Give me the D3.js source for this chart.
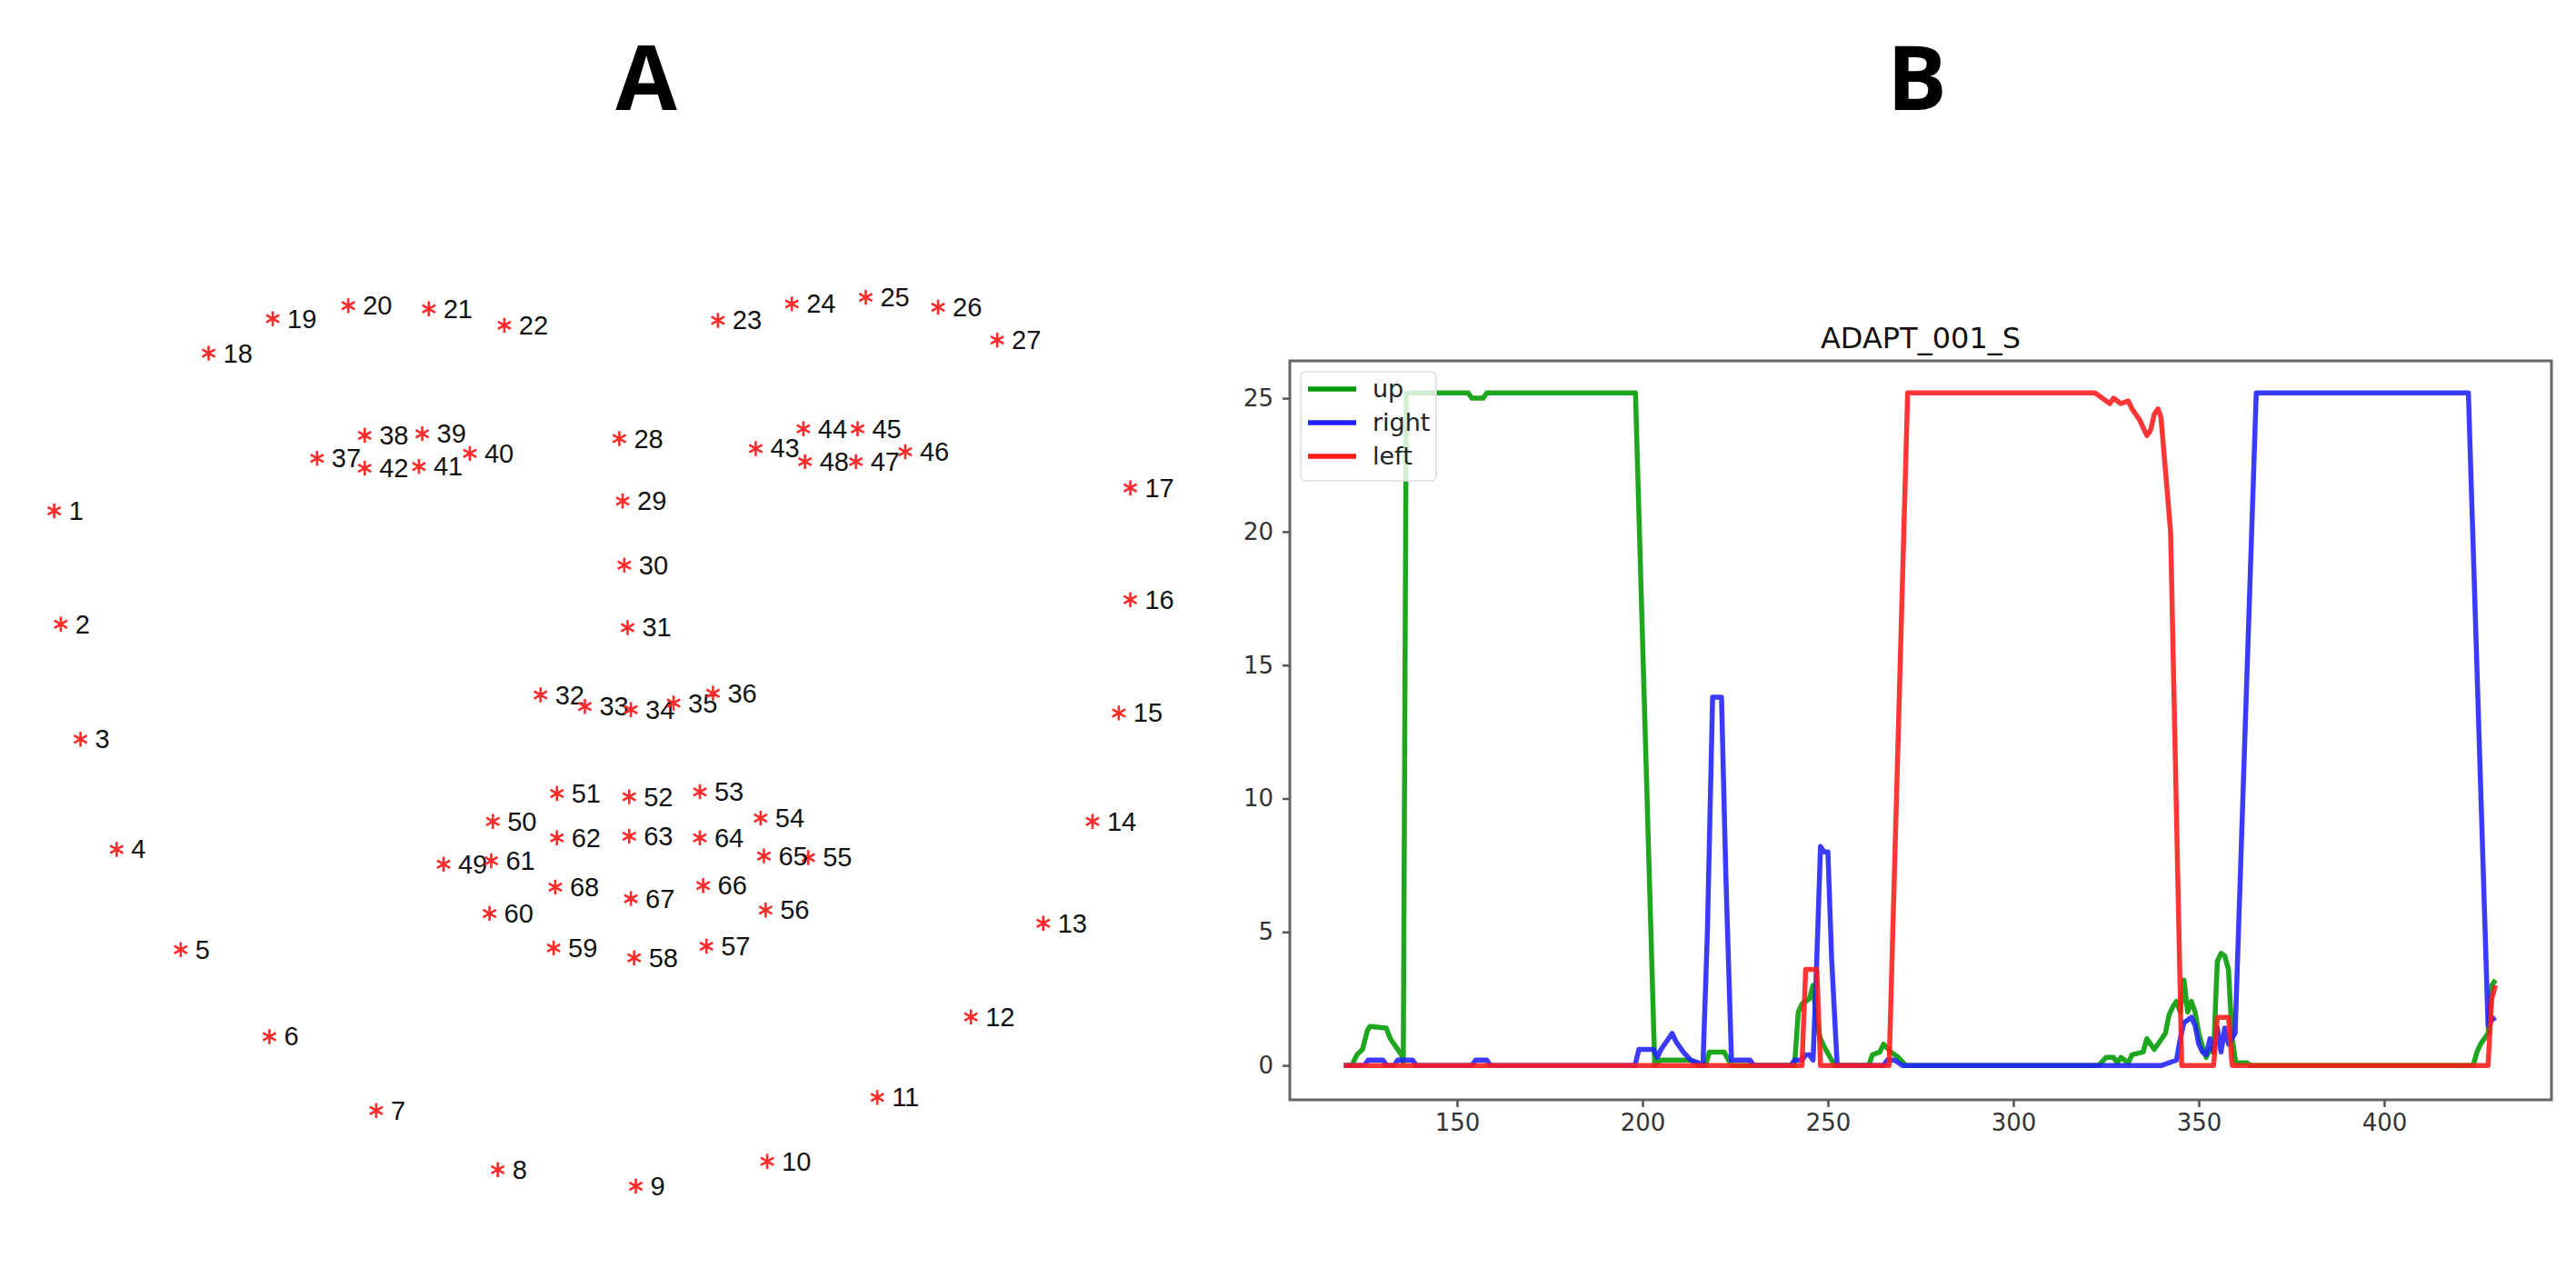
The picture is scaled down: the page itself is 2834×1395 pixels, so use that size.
<!DOCTYPE html>
<html><head><meta charset="utf-8">
<script src="https://cdn.jsdelivr.net/npm/d3@7"></script>
<style>body{margin:0;background:#fff}</style>
</head><body>
<svg id="c" width="2834" height="1395"></svg>
<script>
// ---------- Panel A: 68 facial landmarks (image coords) ----------
const landmarkX = [33,37,49,71,110,164,229,303,387,467,534,591,635,665,681,688,688,
  127,166,212,261,307,437,482,527,571,607,
  377,379,380,382,329,356,384,410,434,
  193,222,257,286,255,222,460,489,522,551,521,490,
  270,300,339,383,426,463,492,466,430,386,337,298,299,339,383,426,465,428,384,338];
const landmarkY = [311,380,450,517,578,631,676,712,722,707,668,619,562,500,434,365,297,
  215,194,186,188,198,195,185,181,187,207,
  267,305,344,382,423,430,432,428,422,
  279,265,264,276,284,285,273,261,261,275,281,281,
  526,500,483,485,482,498,522,554,576,583,577,556,524,510,509,510,521,539,547,540];
const landmarkLabels = landmarkX.map((_, i) => String(i + 1));

// ---------- Panel B: time series ----------
const chartTitle = "ADAPT_001_S";
const seriesNames = ["up", "right", "left"];
const seriesColors = ["#009a00", "#2020ff", "#ff1a1a"];
const upX = [119.5,121.6,123,124.5,125.8,126.5,130.9,132,133.5,135,135.5,136.3,153,154,157,158,198.1,203.3,205,213,215,217,218,222,224,241,242,243,245,246,247,248,249,251,252,261,262,264,265,267,269,271,323,325,327,328,329,331,332,335,336,337,338,340,341,342,343,344,345,346,347,348,349,350,351,352,353,354,355,356,357,358,359,360,363,364,424,425,426,428,429,430];
const upY = [0,0,0.4,0.6,1.3,1.46,1.4,1.0,0.7,0.4,0.1,25.2,25.2,25.0,25.0,25.2,25.2,0,0.2,0.2,0,0,0.5,0.5,0,0,2.0,2.3,2.5,3.0,1.5,1.0,0.7,0.2,0,0,0.4,0.5,0.8,0.5,0.3,0,0,0.3,0.3,0.1,0.3,0.1,0.4,0.5,1.0,0.8,0.6,1.0,1.2,1.9,2.2,2.4,2.0,3.2,2.0,2.4,2.0,1.2,0.7,0.3,0.6,0.5,3.9,4.2,4.1,3.6,1.0,0.1,0.1,0,0,0.5,0.8,1.2,3.0,3.2];
const rightX = [119.5,125,126,130,131,133,134,138,139,154,155,158,159,198,199,203,204,205,207,208,209,211,213,215,216.3,217.5,218.9,221.3,222.5,224,229,230,240,241,243,244,245,246,247,248,249,250,251,252.5,265,266,268,270,340,344,345,346,348,349,350,351,352,353,354,355,356,357,358,359.8,365.5,422.7,428,429,430];
const rightY = [0,0,0.2,0.2,0,0,0.2,0.2,0,0,0.2,0.2,0,0,0.6,0.6,0.3,0.6,1.0,1.2,0.9,0.5,0.2,0.1,0,5,13.8,13.8,7,0.2,0.2,0,0,0.2,0.2,0.4,0.4,0.2,4,8.2,8.0,8.0,4,0,0,0.2,0.2,0,0,0.2,1.0,1.6,1.8,1.5,0.8,0.5,0.4,1.0,0.5,1.4,0.5,1.4,0.8,1.2,25.2,25.2,1.5,1.7,1.8];
const leftX = [119.5,243,244,247,248,266.5,271.5,322,324,326,327,329,331,332,334,335,336,337,338,339,339.8,342.4,345.4,354,355,358,359,428,429,430];
const leftY = [0,0,3.6,3.6,0,0,25.2,25.2,25.0,24.8,25.0,24.8,24.9,24.6,24.2,23.9,23.6,23.8,24.4,24.6,24.3,20,0,0,1.8,1.8,0,0,2.5,3.0];
const xTicks = [150,200,250,300,350,400];
const yTicks = [0,5,10,15,20,25];

const svg = d3.select("#c");

["A","B"].forEach((t,i)=>{
  svg.append("text").attr("x",[711,2109][i]).attr("y",121).attr("text-anchor","middle")
    .attr("font-family","Open Sans, Lato, sans-serif").attr("font-weight","bold")
    .attr("font-size",98).text(t);
});

const ax = d3.scaleLinear().domain([0,1568]).range([0,2834]);
const ay = d3.scaleLinear().domain([0,1568]).range([0,2834]);
const gA = svg.append("g");
const star = d3.symbol().type(d3.symbolAsterisk).size(190);
landmarkX.forEach((x,i)=>{
  const px = ax(x), py = ay(landmarkY[i]);
  gA.append("path").attr("d",star()).attr("transform",`translate(${px},${py})`)
    .attr("fill","none").attr("stroke","#ff2a2a").attr("stroke-width",2.6);
  gA.append("text").attr("x",px+16).attr("y",py+10)
    .attr("font-family","Liberation Sans, Arial, sans-serif").attr("font-size",29)
    .attr("fill","#111").text(landmarkLabels[i]);
});

const L=1419, R=2807, T=397, B=1210;
const x = d3.scaleLinear().domain([104.9,445.1]).range([L,R]);
const y = d3.scaleLinear().domain([-1.29,26.4]).range([B,T]);
const gB = svg.append("g");
const font = "DejaVu Sans, sans-serif";

const series = [{x:upX,y:upY},{x:rightX,y:rightY},{x:leftX,y:leftY}];
const line = d3.line().x(d=>x(d[0])).y(d=>y(d[1]));
series.forEach((s,i)=>{
  gB.append("path").datum(s.x.map((v,j)=>[v,s.y[j]])).attr("d",line)
    .attr("fill","none").attr("stroke",seriesColors[i]).attr("stroke-width",5.5)
    .attr("stroke-linejoin","round").attr("opacity",0.88);
});

gB.append("rect").attr("x",L).attr("y",T).attr("width",R-L).attr("height",B-T)
  .attr("fill","none").attr("stroke","#666").attr("stroke-width",3);

const xa = gB.append("g").attr("transform",`translate(0,${B})`)
  .call(d3.axisBottom(x).tickValues(xTicks).tickSize(8).tickPadding(8).tickFormat(d3.format("d")));
const ya = gB.append("g").attr("transform",`translate(${L},0)`)
  .call(d3.axisLeft(y).tickValues(yTicks).tickSize(8).tickPadding(10).tickFormat(d3.format("d")));
[xa,ya].forEach(a=>{
  a.select(".domain").remove();
  a.selectAll("line").attr("stroke","#555").attr("stroke-width",2.5);
  a.selectAll("text").attr("font-family",font).attr("font-size",26).attr("fill","#333");
});

gB.append("text").attr("x",(L+R)/2).attr("y",383).attr("text-anchor","middle")
  .attr("font-family",font).attr("font-size",32).attr("fill","#111").text(chartTitle);

const lg = gB.append("g");
lg.append("rect").attr("x",1431).attr("y",409).attr("width",149).attr("height",120).attr("rx",5)
  .attr("fill","rgba(255,255,255,0.8)").attr("stroke","#ddd").attr("stroke-width",1.5);
seriesNames.forEach((n,i)=>{
  const yy = 428 + i*37;
  lg.append("line").attr("x1",1439).attr("x2",1492).attr("y1",yy).attr("y2",yy)
    .attr("stroke",seriesColors[i]).attr("stroke-width",5.5);
  lg.append("text").attr("x",1510).attr("y",yy+9).attr("font-family",font)
    .attr("font-size",27).attr("fill","#222").text(n);
});
</script>
</body></html>
